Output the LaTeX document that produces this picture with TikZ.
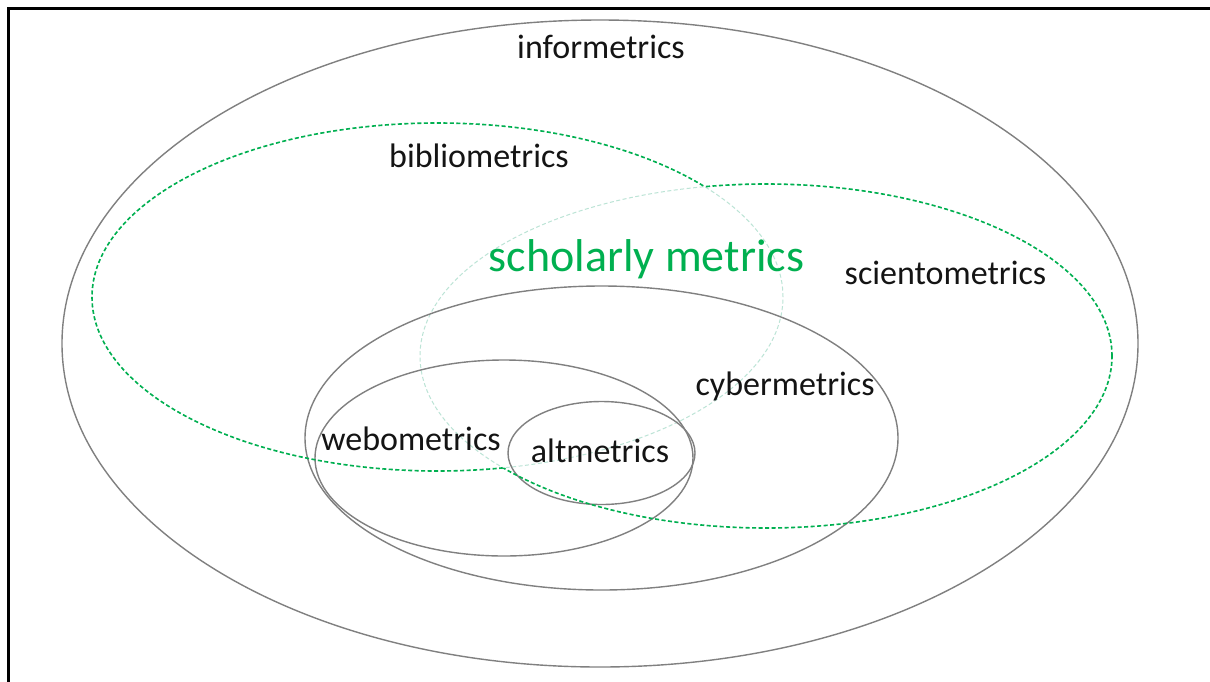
\documentclass[tikz,border=0pt]{standalone}
\usepackage{fontspec}
\setmainfont{Carlito}
\definecolor{ogreen}{RGB}{0,176,80}
\definecolor{palegreen}{RGB}{188,228,214}
\definecolor{setgray}{RGB}{128,128,128}
\begin{document}
\begin{tikzpicture}[x=1pt,y=-1pt,
  setline/.style={draw=setgray, line width=1.4pt},
  gline/.style={draw=ogreen, line width=1.6pt, dash pattern=on 4pt off 2.5pt},
  pline/.style={draw=palegreen, line width=1pt, dash pattern=on 4pt off 2.5pt},
  lab/.style={font=\fontsize{34}{40}\selectfont, text=black!92, anchor=base, inner sep=0pt}]
\useasboundingbox (0,0) rectangle (1210,681);
\fill[white] (0,0) rectangle (1210,681);
% frame
\coordinate (fbl) at (8,682);
\coordinate (ftl) at (8,8);
\coordinate (ftr) at (1211,8);
\draw[line width=3pt] (fbl) -- (ftl) -- (ftr);
% centres
\coordinate (cInf) at (600,343.5);
\coordinate (cBib) at (437.5,297);
\coordinate (cSci) at (766,356);
\coordinate (cCyb) at (601.5,438);
\coordinate (cWeb) at (504,458);
\coordinate (cAlt) at (601.5,453);
% pale (overlapping) parts of the green sets
\draw[pline] (cBib) ellipse [x radius=345.5pt, y radius=174pt];
\draw[pline] (cSci) ellipse [x radius=346pt, y radius=172pt];
% grey sets
\draw[setline] (cInf) ellipse [x radius=538pt, y radius=323.5pt];
\draw[setline] (cCyb) ellipse [x radius=296.5pt, y radius=152pt];
\draw[setline] (cWeb) ellipse [x radius=189pt, y radius=98pt];
\draw[setline] (cAlt) ellipse [x radius=93.5pt, y radius=51.5pt];
% bright green parts (outside the other green set)
\begin{scope}[even odd rule]
  \clip (0,0) rectangle (1210,681) (cSci) ellipse [x radius=346pt, y radius=172pt];
  \draw[gline] (cBib) ellipse [x radius=345.5pt, y radius=174pt];
\end{scope}
\begin{scope}[even odd rule]
  \clip (0,0) rectangle (1210,681) (cBib) ellipse [x radius=345.5pt, y radius=174pt];
  \draw[gline] (cSci) ellipse [x radius=346pt, y radius=172pt];
\end{scope}
% labels
\node[lab] (tInf) at (601,58) {informetrics};
\node[lab] (tBib) at (479,167) {bibliometrics};
\node[lab, font=\fontsize{46}{52}\selectfont, text=ogreen] (tSch) at (646.5,271) {scholarly metrics};
\node[lab] (tSci) at (945.5,284) {scientometrics};
\node[lab] (tCyb) at (785,395) {cybermetrics};
\node[lab] (tWeb) at (411,450) {webometrics};
\node[lab] (tAlt) at (600,462) {altmetrics};
\end{tikzpicture}
\end{document}
